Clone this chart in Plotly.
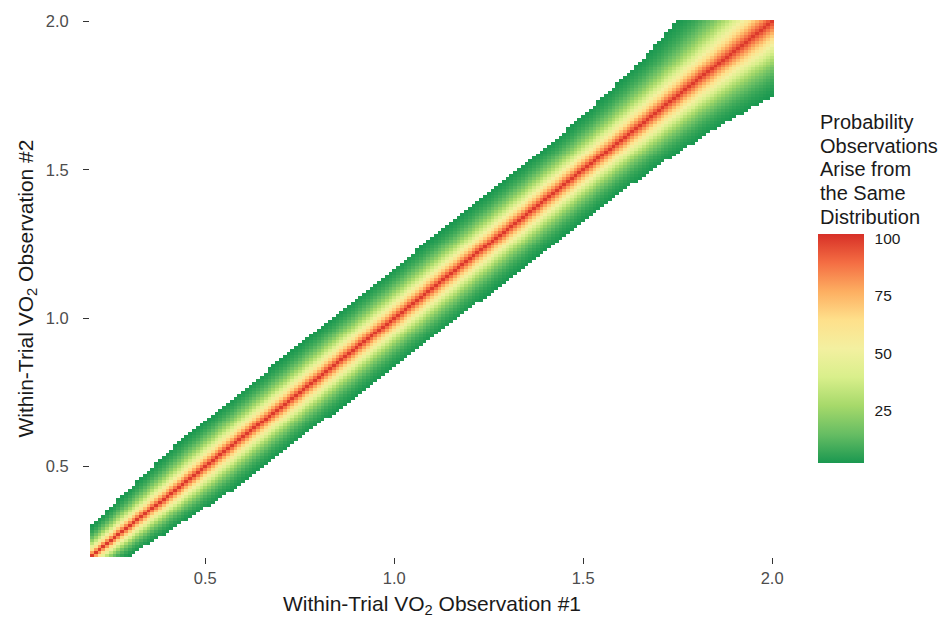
import math
import numpy as np
import plotly.graph_objects as go

# ---- data ----
# grid of observations (tile centres)
obs1 = np.round(np.arange(0.20, 2.0001, 0.01), 2)
obs2 = np.round(np.arange(0.20, 2.0001, 0.01), 2)

# half-width of the band (where probability falls to the cutoff) vs mean VO2 level
level_knots = [0.20, 0.35, 0.50, 1.00, 1.50, 1.60, 1.75, 1.90, 2.00]
halfwidth_knots = [0.088, 0.125, 0.152, 0.168, 0.175, 0.185, 0.212, 0.262, 0.295]
cutoff_pct = 2.5  # lowest displayed probability (%)

tick_vals = [0.5, 1.0, 1.5, 2.0]
tick_text = ["0.5", "1.0", "1.5", "2.0"]
cbar_ticks = [25, 50, 75, 100]
legend_title_lines = ["Probability", "Observations", "Arise from", "the Same", "Distribution"]

# ---- build probability surface ----
X, Y = np.meshgrid(obs1, obs2)
M = (X + Y) / 2.0
HW = np.interp(M, level_knots, halfwidth_knots)
z_edge = 2.2414  # two-sided z for p = 0.025
T = z_edge * np.abs(Y - X) / HW
erfc_v = np.vectorize(math.erfc)
P = 100.0 * erfc_v(T / math.sqrt(2.0))
P[P < cutoff_pct] = np.nan

palette = ["#1a9850", "#66bd63", "#a6d96a", "#d9ef8b", "#f3f0a0",
           "#fee08b", "#fdae61", "#f46d43", "#d73027"]
colorscale = [[i / (len(palette) - 1), c] for i, c in enumerate(palette)]

FONT = "Liberation Sans, Arial, sans-serif"
PLOT_TOP, PLOT_H = 16, 541

fig = go.Figure(go.Heatmap(
    x=obs1, y=obs2, z=P,
    colorscale=colorscale, zmin=cutoff_pct, zmax=102,
    hoverongaps=False,
    colorbar=dict(
        thickness=46, thicknessmode="pixels",
        len=229, lenmode="pixels",
        x=1.064, xanchor="left", xref="paper",
        y=0.389, yanchor="middle",
        outlinewidth=0,
        tickvals=cbar_ticks, ticktext=[str(v) for v in cbar_ticks],
        ticks="outside", ticklen=8, tickcolor="rgba(255,255,255,0)", tickwidth=1,
        tickfont=dict(family=FONT, size=15.5, color="#1a1a1a"),
        xpad=0, ypad=0,
    ),
))

# legend title, one line per annotation for ggplot-like line spacing
for i, line in enumerate(legend_title_lines):
    yc = 119 + i * 23.8
    fig.add_annotation(
        text=line, xref="paper", yref="paper",
        x=1.064, y=1.0 - (yc - PLOT_TOP) / PLOT_H, xanchor="left", yanchor="middle",
        align="left", showarrow=False,
        font=dict(family=FONT, size=20, color="#1a1a1a"),
    )

axis_common = dict(
    range=[0.195, 2.005], showgrid=False, zeroline=False, showline=False,
    ticks="outside", ticklen=6, tickwidth=1.2, tickcolor="#333333",
    tickvals=tick_vals, ticktext=tick_text,
    tickfont=dict(family=FONT, size=16.5, color="#4d4d4d"),
)

fig.update_layout(
    width=948, height=623,
    margin=dict(l=90, r=174, t=PLOT_TOP, b=66),
    paper_bgcolor="white", plot_bgcolor="white",
    font=dict(family=FONT),
    xaxis=dict(**axis_common,
               title=dict(text="Within-Trial VO<sub>2</sub> Observation #1",
                          font=dict(family=FONT, size=21, color="#1a1a1a"), standoff=10)),
    yaxis=dict(**axis_common, ticklabelstandoff=11,
               title=dict(text="Within-Trial VO<sub>2</sub> Observation #2",
                          font=dict(family=FONT, size=21, color="#1a1a1a"), standoff=6)),
)

fig.write_html("out.html")
